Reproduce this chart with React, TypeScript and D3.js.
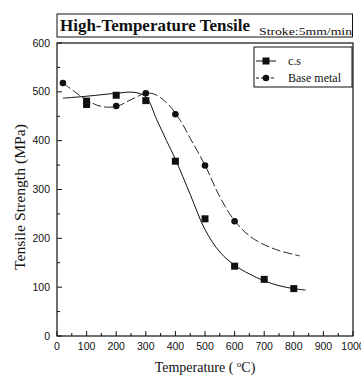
import React from "react";
import * as d3 from "d3";

const csTemps = [100, 100, 200, 300, 400, 500, 600, 700, 800];
const csValues = [474, 481, 493, 482, 358, 240, 143, 116, 97];
const baseTemps = [20, 200, 300, 400, 500, 600];
const baseValues = [518, 471, 497, 454, 349, 235];

const csFitTemps = [20, 100, 200, 260, 300, 337, 370, 400, 450, 500, 550, 600, 650, 700, 750, 800, 840];
const csFitValues = [487, 491, 497, 499, 490, 443, 400, 362, 290, 218, 172, 145, 127, 113, 103, 97, 94];
const baseFitTemps = [20, 60, 100, 150, 200, 250, 300, 330, 370, 415, 450, 500, 550, 600, 650, 700, 750, 820];
const baseFitValues = [518, 500, 483, 470, 470, 484, 497, 495, 478, 443, 405, 350, 285, 236, 205, 187, 175, 164];

const xTicks = [0, 100, 200, 300, 400, 500, 600, 700, 800, 900, 1000];
const yTicks = [0, 100, 200, 300, 400, 500, 600];
const seriesNames = ["c.s", "Base metal"];

const W = 361, H = 381;
const L = 57, R = 353, T = 43, B = 336;

export default function App() {
  const x = d3.scaleLinear().domain([0, 1000]).range([L, R]);
  const y = d3.scaleLinear().domain([0, 600]).range([B, T]);
  const line = d3.line<[number, number]>().x(d => x(d[0])).y(d => y(d[1])).curve(d3.curveCatmullRom.alpha(0.5));
  const csFit = line(csFitTemps.map((t, i) => [t, csFitValues[i]]));
  const baseFit = line(baseFitTemps.map((t, i) => [t, baseFitValues[i]]));
  const minorX = d3.range(50, 1000, 100);
  const minorY = d3.range(50, 600, 100);
  const serif = "'Liberation Serif', 'Times New Roman', serif";
  const sans = "'Liberation Sans', Arial, sans-serif";
  return (
    <svg width={W} height={H} style={{ position: "absolute", left: 0, top: 0, background: "#fff" }}>
      {/* title box */}
      <rect x={57} y={14} width={295.5} height={23} fill="none" stroke="#111" strokeWidth={1} />
      <text x={60} y={31} fontFamily={serif} fontWeight="bold" fontSize={17} fill="#111" textLength={190} lengthAdjust="spacingAndGlyphs">High-Temperature Tensile</text>
      <text x={259} y={35} fontFamily={serif} fontSize={11} fill="#111" textLength={93} lengthAdjust="spacingAndGlyphs">Stroke:5mm/min</text>
      {/* frame */}
      <rect x={L} y={T} width={R - L} height={B - T} fill="none" stroke="#111" strokeWidth={1.2} />
      {xTicks.map(t => (
        <g key={"x" + t}>
          <line x1={x(t)} x2={x(t)} y1={B} y2={B - 5} stroke="#111" />
          <text x={x(t)} y={350} textAnchor="middle" fontFamily={sans} fontSize={10.5} fill="#111">{t}</text>
        </g>
      ))}
      {minorX.map(t => <line key={"mx" + t} x1={x(t)} x2={x(t)} y1={B} y2={B - 3} stroke="#111" />)}
      {yTicks.map(t => (
        <g key={"y" + t}>
          <line x1={L} x2={L + 5} y1={y(t)} y2={y(t)} stroke="#111" />
          <text x={50} y={y(t) + 3.5} textAnchor="end" fontFamily={sans} fontSize={10.5} fill="#111">{t}</text>
        </g>
      ))}
      {minorY.map(t => <line key={"my" + t} x1={L} x2={L + 3} y1={y(t)} y2={y(t)} stroke="#111" />)}
      {/* axis titles */}
      <text transform="translate(25,197) rotate(-90)" textAnchor="middle" fontFamily={serif} fontSize={14} fill="#111" textLength={146} lengthAdjust="spacingAndGlyphs">Tensile Strength  (MPa)</text>
      <text x={205} y={372} textAnchor="middle" fontFamily={serif} fontSize={14} fill="#111">Temperature ( <tspan fontSize={9} dy={-5}>o</tspan><tspan dy={5}>C)</tspan></text>
      {/* curves */}
      <path d={csFit ?? ""} fill="none" stroke="#111" strokeWidth={1} />
      <path d={baseFit ?? ""} fill="none" stroke="#111" strokeWidth={0.9} strokeDasharray="9,3" />
      {csTemps.map((t, i) => (
        <rect key={"cs" + i} x={x(t) - 3.5} y={y(csValues[i]) - 3.5} width={7} height={7} fill="#111" />
      ))}
      {baseTemps.map((t, i) => (
        <circle key={"bm" + i} cx={x(t)} cy={y(baseValues[i])} r={3.3} fill="#111" />
      ))}
      {/* legend */}
      <rect x={254} y={47} width={98} height={40} fill="#fff" stroke="#111" strokeWidth={1} />
      <line x1={256} x2={276} y1={61} y2={61} stroke="#111" />
      <rect x={262.5} y={57.5} width={7} height={7} fill="#111" />
      <text x={288} y={65} fontFamily={serif} fontSize={12} fill="#111">{seriesNames[0]}</text>
      <line x1={256} x2={276} y1={78} y2={78} stroke="#111" strokeDasharray="3,2" />
      <circle cx={266} cy={78} r={3.3} fill="#111" />
      <text x={288} y={82} fontFamily={serif} fontSize={12} fill="#111">{seriesNames[1]}</text>
    </svg>
  );
}
